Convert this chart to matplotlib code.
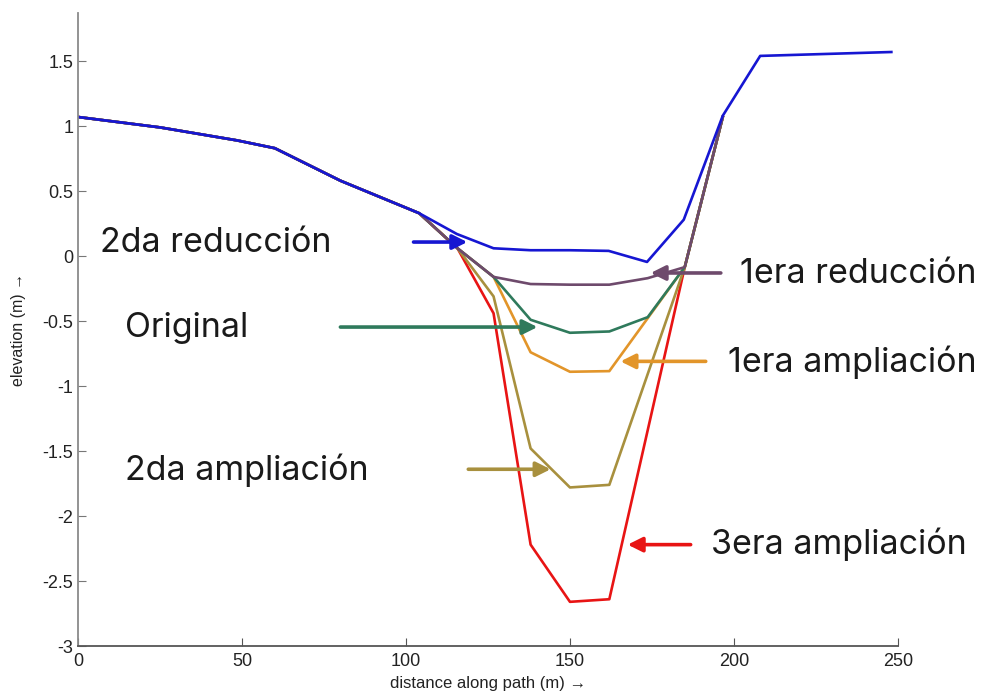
import matplotlib
matplotlib.use("Agg")
import matplotlib.pyplot as plt

# tramo común (margen izquierda)
x_left = [0, 25, 48.5, 60, 80, 104]
y_left = [1.07, 0.99, 0.89, 0.83, 0.58, 0.33]

# 2da reducción
x_red2 = x_left + [115.5, 126.7, 138, 150, 161.8, 173.5, 184.7, 196.6, 208, 248]
y_red2 = y_left + [0.17, 0.06, 0.045, 0.045, 0.04, -0.045, 0.28, 1.08, 1.54, 1.57]

# 1era reducción
x_red1 = x_left + [115.7, 126.7, 138, 150, 162, 173.7, 185, 196.6]
y_red1 = y_left + [0.06, -0.16, -0.215, -0.22, -0.22, -0.17, -0.085, 1.07]

# Original
x_orig = x_left + [115.7, 126.7, 138, 150, 162, 173.7, 185, 196.6]
y_orig = y_left + [0.06, -0.16, -0.49, -0.59, -0.58, -0.47, -0.085, 1.07]

# 1era ampliación
x_amp1 = x_left + [115.7, 126.7, 138, 150, 162, 185, 196.6]
y_amp1 = y_left + [0.06, -0.16, -0.74, -0.89, -0.885, -0.085, 1.07]

# 2da ampliación
x_amp2 = x_left + [115.7, 126.7, 138, 150, 162, 185, 196.6]
y_amp2 = y_left + [0.06, -0.31, -1.48, -1.78, -1.76, -0.085, 1.07]

# 3era ampliación
x_amp3 = x_left + [115.7, 126.7, 138, 150, 162, 185, 196.6]
y_amp3 = y_left + [0.06, -0.44, -2.22, -2.66, -2.64, -0.085, 1.07]

c_red2 = "#1616d2"
c_red1 = "#6e4a6c"
c_orig = "#2f7a5c"
c_amp1 = "#e2952a"
c_amp2 = "#a8903e"
c_amp3 = "#e81414"

# etiquetas: texto, posición del texto, inicio y punta de la flecha
labels = [
    ("2da reducción", (6.7, 0.10), (102.3, 0.108), (118.7, 0.108), c_red2),
    ("1era reducción", (202, -0.14), (196, -0.13), (174.6, -0.13), c_red1),
    ("Original", (14.3, -0.555), (80, -0.546), (140.1, -0.546), c_orig),
    ("1era ampliación", (198.1, -0.82), (191.4, -0.81), (165.4, -0.81), c_amp1),
    ("2da ampliación", (14.3, -1.646), (119, -1.64), (144.1, -1.64), c_amp2),
    ("3era ampliación", (192.9, -2.22), (186.8, -2.22), (167.6, -2.22), c_amp3),
]

plt.rcParams["font.family"] = ["Liberation Sans", "DejaVu Sans"]

fig = plt.figure(figsize=(9.89, 6.96), dpi=100)
ax = fig.add_axes([0.0789, 0.0718, 0.829, 0.9095])

lw = 1.9
ax.plot(x_amp3, y_amp3, color=c_amp3, lw=lw)
ax.plot(x_amp2, y_amp2, color=c_amp2, lw=lw)
ax.plot(x_amp1, y_amp1, color=c_amp1, lw=lw)
ax.plot(x_orig, y_orig, color=c_orig, lw=lw)
ax.plot(x_red1, y_red1, color=c_red1, lw=lw)
ax.plot(x_red2, y_red2, color=c_red2, lw=lw)

for txt, tpos, start, tip, col in labels:
    ax.annotate("", xy=tip, xytext=start,
                arrowprops=dict(arrowstyle="-|>", color=col, lw=2.6, mutation_scale=22,
                                shrinkA=0, shrinkB=0))
    ax.text(tpos[0], tpos[1], txt, fontsize=24.5, family=["Inter", "DejaVu Sans"],
            color="#1a1a1a", va="center", ha="left", clip_on=False)

ax.set_xlim(0, 250)
ax.set_ylim(-3, 1.87)
ax.set_xticks([0, 50, 100, 150, 200, 250])
ax.set_yticks([-3, -2.5, -2, -1.5, -1, -0.5, 0, 0.5, 1, 1.5])
ax.set_yticklabels(["-3", "-2.5", "-2", "-1.5", "-1", "-0.5", "0", "0.5", "1", "1.5"])

ax.spines["top"].set_visible(False)
ax.spines["right"].set_visible(False)
ax.spines["left"].set_color("#8a8a8a")
ax.spines["bottom"].set_color("#555555")
ax.spines["left"].set_linewidth(1.3)
ax.spines["bottom"].set_linewidth(1.3)
ax.tick_params(direction="in", length=6, labelsize=13, colors="#333333")
ax.tick_params(axis="y", colors="#777777", labelcolor="#222222")
ax.tick_params(axis="x", colors="#555555", labelcolor="#222222", pad=5)

ax.set_xlabel("distance along path (m) →", fontsize=12, labelpad=4, color="#222222",
              family=["Liberation Sans", "DejaVu Sans"])
ax.set_ylabel("elevation (m) →", fontsize=11.5, labelpad=12, color="#222222")

fig.savefig("out.png", dpi=100)
